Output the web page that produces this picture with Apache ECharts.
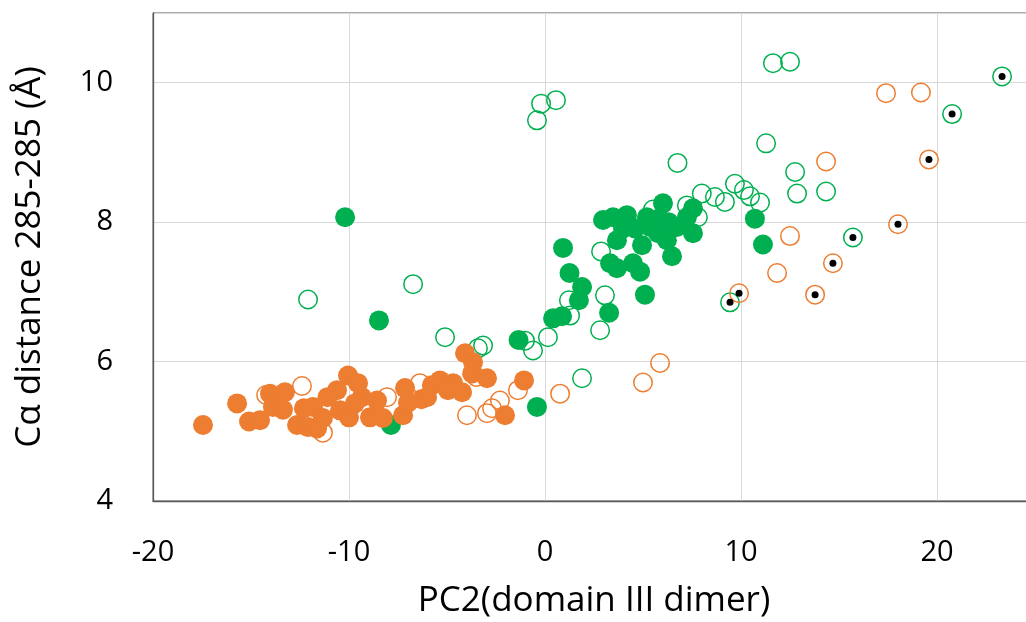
<!DOCTYPE html>
<html>
<head>
<meta charset="utf-8">
<script src="https://cdn.jsdelivr.net/npm/echarts@6/dist/echarts.min.js"></script>
<style>
html,body{margin:0;padding:0;background:#fff;}
#c{width:1026px;height:622px;}
</style>
</head>
<body>
<div id="c"></div>
<script>
// ---- data (PC2, Cα distance) ----
const xTicks = [-20, -10, 0, 10, 20];
const yTicks = [4, 6, 8, 10];

const greenFilled = [
  [-10.2, 8.07], [-8.47, 6.59], [-7.86, 5.09], [-0.41, 5.35], [-1.35, 6.31],
  [0.92, 7.63], [1.25, 7.27], [1.89, 7.07], [1.73, 6.88], [0.41, 6.62], [0.87, 6.65],
  [3.27, 6.70], [5.10, 6.96], [3.32, 7.41], [3.67, 7.34], [4.49, 7.41], [4.85, 7.29], [6.48, 7.51],
  [2.96, 8.03], [3.47, 8.07], [4.18, 8.10], [3.67, 7.74], [3.98, 7.91], [4.59, 7.91], [4.95, 7.67],
  [5.20, 8.07], [5.36, 7.93], [6.02, 8.27], [5.77, 7.84], [6.22, 7.74], [6.73, 7.93], [7.55, 7.84],
  [7.55, 8.20], [7.24, 8.07], [5.80, 8.05], [6.30, 8.00], [10.71, 8.05], [11.12, 7.68]
];
const greenHollow = [
  [-12.09, 6.89], [-6.73, 7.11], [-5.10, 6.35], [-3.42, 6.19], [-3.16, 6.23], [-1.02, 6.30],
  [-0.61, 6.16], [0.15, 6.35], [1.89, 5.76], [1.22, 6.88], [1.28, 6.66], [3.06, 6.95], [2.81, 6.45],
  [2.86, 7.58], [-0.41, 9.46], [-0.20, 9.70], [0.56, 9.75], [11.63, 10.28], [12.50, 10.30],
  [6.76, 8.85], [11.28, 9.13], [12.76, 8.72], [12.86, 8.41], [14.34, 8.44], [9.69, 8.55],
  [10.15, 8.46], [10.46, 8.37], [10.97, 8.28], [9.18, 8.29], [8.67, 8.36], [8.00, 8.41],
  [7.24, 8.24], [5.51, 8.18], [7.80, 8.07], [15.71, 7.78], [20.77, 9.55], [23.32, 10.09], [9.44, 6.85]
];
const orangeFilled = [
  [-17.45, 5.09], [-15.71, 5.40], [-15.10, 5.14], [-14.54, 5.16], [-14.03, 5.54], [-13.27, 5.56],
  [-13.88, 5.35], [-13.37, 5.31], [-12.65, 5.09], [-12.30, 5.33], [-12.09, 5.06], [-11.63, 5.04],
  [-11.84, 5.35], [-11.10, 5.49], [-11.33, 5.19], [-10.61, 5.59], [-10.46, 5.30], [-10.05, 5.80],
  [-9.54, 5.69], [-10.00, 5.20], [-9.34, 5.49], [-8.93, 5.20], [-9.70, 5.40], [-8.57, 5.44],
  [-8.27, 5.19], [-7.24, 5.23], [-7.14, 5.62], [-6.99, 5.41], [-6.30, 5.46], [-6.02, 5.49],
  [-5.77, 5.66], [-5.36, 5.73], [-4.69, 5.69], [-4.23, 5.56], [-4.95, 5.59], [-4.08, 6.12],
  [-3.67, 5.99], [-3.72, 5.83], [-2.96, 5.76], [-1.07, 5.73], [-2.04, 5.23]
];
const orangeHollow = [
  [-14.23, 5.52], [-12.40, 5.65], [-11.33, 4.98], [-8.06, 5.49], [-6.38, 5.69], [-3.98, 5.23],
  [-2.96, 5.26], [-2.70, 5.33], [-2.30, 5.44], [-1.38, 5.59], [-3.50, 5.78], [0.77, 5.54],
  [5.00, 5.70], [5.87, 5.98], [17.40, 9.85], [19.18, 9.86], [14.34, 8.87], [12.50, 7.80],
  [11.84, 7.27], [19.59, 8.90], [18.01, 7.97], [14.69, 7.41], [13.78, 6.96], [9.90, 6.98]
];
const blackDots = [
  [9.44, 6.85], [9.90, 6.98], [13.78, 6.96], [14.69, 7.41], [15.71, 7.78],
  [18.01, 7.97], [19.59, 8.90], [20.77, 9.55], [23.32, 10.09]
];

const ORANGE = '#ED7D31';
const GREEN = '#00B050';
const FONT = '"Open Sans", sans-serif';

const chart = echarts.init(document.getElementById('c'), null, {renderer: 'canvas'});

function hollow(data, color) {
  return {
    type: 'scatter', data: data, symbol: 'circle', symbolSize: 18.5,
    itemStyle: {color: 'rgba(255,255,255,0)', borderColor: color, borderWidth: 1.5, opacity: 1},
    silent: true
  };
}
function filled(data, color) {
  return {
    type: 'scatter', data: data, symbol: 'circle', symbolSize: 20,
    itemStyle: {color: color, opacity: 1}, silent: true
  };
}

chart.setOption({
  animation: false,
  grid: {left: 153, top: 13, width: 882, height: 488, outerBoundsMode: 'none', containLabel: false,
    show: true, borderColor: '#595959', borderWidth: 1, backgroundColor: 'transparent'},
  xAxis: {
    type: 'value', min: xTicks[0], max: 25, interval: 10,
    axisLine: {show: true, onZero: false, lineStyle: {color: '#595959', width: 1.3}},
    axisTick: {show: false},
    splitLine: {show: true, lineStyle: {color: '#d9d9d9', width: 1}},
    axisLabel: {color: '#000', fontFamily: FONT, fontSize: 29, margin: 37, showMaxLabel: false,
      formatter: v => xTicks.indexOf(v) >= 0 ? String(v) : ''},
    name: 'PC2(domain III dimer)', nameLocation: 'middle', nameGap: 83,
    nameTextStyle: {color: '#000', fontFamily: FONT, fontSize: 35}
  },
  yAxis: {
    type: 'value', min: yTicks[0], max: 11, interval: 2,
    axisLine: {show: true, onZero: false, lineStyle: {color: '#595959', width: 1.3}},
    axisTick: {show: false},
    splitLine: {show: true, lineStyle: {color: '#d9d9d9', width: 1}},
    axisLabel: {color: '#000', fontFamily: FONT, fontSize: 29, margin: 40, showMaxLabel: false,
      formatter: v => yTicks.indexOf(v) >= 0 ? String(v) : ''},
    name: 'Cα distance 285-285 (Å)', nameLocation: 'middle', nameGap: 105,
    nameTextStyle: {color: '#000', fontFamily: FONT, fontSize: 35}
  },
  series: [
    hollow(greenHollow, GREEN),
    hollow(orangeHollow, ORANGE),
    filled(greenFilled, GREEN),
    filled(orangeFilled, ORANGE),
    {type: 'scatter', data: blackDots, symbol: 'circle', symbolSize: 7, itemStyle: {color: '#000', opacity: 1}, silent: true}
  ]
});
</script>
</body>
</html>
